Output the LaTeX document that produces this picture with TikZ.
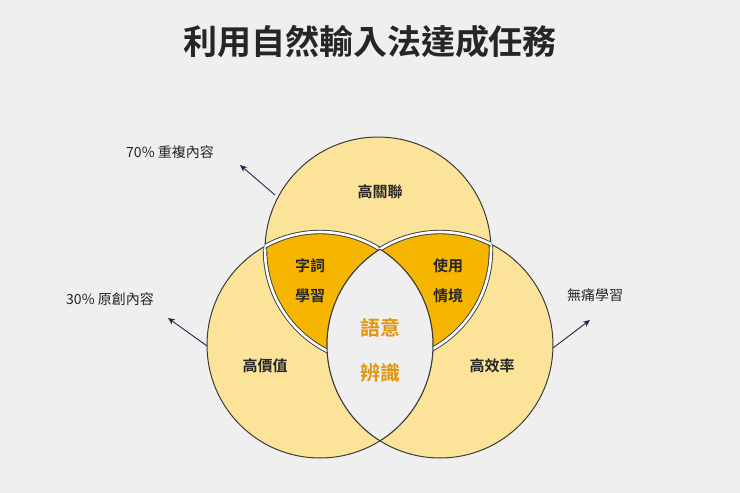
\documentclass[tikz,border=0pt]{standalone}
\usepackage{fontspec}
\setmainfont{Noto Sans CJK TC}
\newfontfamily\cjkb{Noto Sans CJK TC Bold}
\usetikzlibrary{arrows.meta}
\definecolor{bg}{HTML}{EFEFEF}
\definecolor{pale}{HTML}{FBE49A}
\definecolor{org}{HTML}{F6B500}
\definecolor{dk}{HTML}{3A3A3A}
\definecolor{ot}{HTML}{E0960E}
\definecolor{nv}{HTML}{1F2A4A}
\tikzset{
 edge/.style={draw=dk,line width=1pt},
 gap/.style={draw=dk,line width=0.9pt,double=white,double distance=2.6pt},
 lbl/.style={font=\cjkb\fontsize{15}{15}\selectfont,text=black!85},
 side/.style={font=\fontsize{14}{14}\selectfont,text=black!85},
 arr/.style={draw=nv,line width=0.9pt,-{Stealth[length=7pt,width=6pt]}}
}
\begin{document}
\begin{tikzpicture}[x=1pt,y=-1pt]
\fill[bg] (0,0) rectangle (740,493);
\useasboundingbox (0,0) rectangle (740,493);
\def\T{(378,250) circle (113)}
\def\L{(320,345) circle (113)}
\def\R{(440,345) circle (113)}
\def\BX{(-10,-10) rectangle (750,503)}
\fill[pale] \T; \fill[pale] \L; \fill[pale] \R;
\begin{scope}\clip \T; \clip \L; \fill[org] \L; \end{scope}
\begin{scope}\clip \T; \clip \R; \fill[org] \R; \end{scope}
\draw[edge] \T; \draw[edge] \L; \draw[edge] \R;
\begin{scope}[even odd rule]\clip \BX \R; \clip \L; \draw[gap] \T; \end{scope}
\begin{scope}[even odd rule]\clip \BX \L; \clip \R; \draw[gap] \T; \end{scope}
\begin{scope}[even odd rule]\clip \BX \R; \clip \T; \draw[gap] \L; \end{scope}
\begin{scope}[even odd rule]\clip \BX \L; \clip \T; \draw[gap] \R; \end{scope}
\begin{scope}\clip \L; \fill[bg] \R; \end{scope}
\begin{scope}\clip \L; \draw[edge] \R; \end{scope}
\begin{scope}\clip \R; \draw[edge] \L; \end{scope}
\node[font=\cjkb\fontsize{34}{34}\selectfont,text=black!85] (title) at (370,42) {利用自然輸入法達成任務};
\node[lbl] (t) at (380,192) {高關聯};
\node[lbl] (a1) at (310,266) {字詞};
\node[lbl] (a2) at (310,296) {學習};
\node[lbl] (b1) at (448,266) {使用};
\node[lbl] (b2) at (448,296) {情境};
\node[lbl] (l) at (265,366) {高價值};
\node[lbl] (r) at (492,366) {高效率};
\node[font=\cjkb\fontsize{20}{20}\selectfont,text=ot] (c1) at (380,328) {語意};
\node[font=\cjkb\fontsize{20}{20}\selectfont,text=ot] (c2) at (380,373) {辨識};
\node[side] (s1) at (170,152) {70\% 重複內容};
\node[side] (s2) at (110,299) {30\% 原創內容};
\node[side] (s3) at (595,295) {無痛學習};
\coordinate (p1) at (275,195); \coordinate (q1) at (240,165);
\coordinate (p2) at (207,346); \coordinate (q2) at (168,318);
\coordinate (p3) at (553,348); \coordinate (q3) at (590,320);
\draw[arr] (p1) -- (q1);
\draw[arr] (p2) -- (q2);
\draw[arr] (p3) -- (q3);
\end{tikzpicture}
\end{document}
